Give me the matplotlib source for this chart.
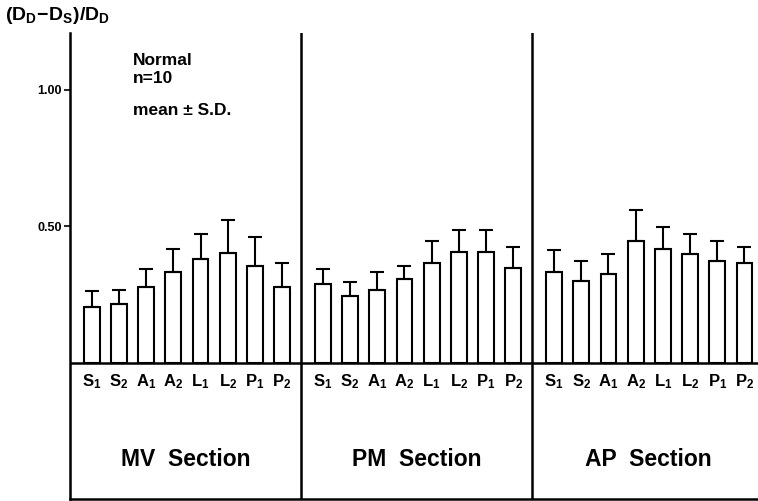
import matplotlib
matplotlib.use("Agg")
import matplotlib.pyplot as plt
import numpy as np

plt.rcParams['font.family'] = ['Liberation Sans', 'DejaVu Sans']
plt.rcParams['font.weight'] = 'bold'
plt.rcParams['mathtext.fontset'] = 'custom'
plt.rcParams['mathtext.rm'] = 'Liberation Sans:bold'
plt.rcParams['mathtext.it'] = 'Liberation Sans:bold'
plt.rcParams['mathtext.bf'] = 'Liberation Sans:bold'

# datos (media y desviacion estandar)
segmentos = ['S_1', 'S_2', 'A_1', 'A_2', 'L_1', 'L_2', 'P_1', 'P_2']
secciones = ['MV  Section', 'PM  Section', 'AP  Section']
mv_mean = [0.203, 0.216, 0.276, 0.330, 0.378, 0.401, 0.354, 0.278]
mv_sd = [0.059, 0.049, 0.065, 0.084, 0.093, 0.122, 0.107, 0.087]
pm_mean = [0.289, 0.243, 0.267, 0.305, 0.364, 0.403, 0.404, 0.347]
pm_sd = [0.055, 0.053, 0.065, 0.049, 0.081, 0.081, 0.081, 0.076]
ap_mean = [0.333, 0.298, 0.325, 0.444, 0.415, 0.397, 0.371, 0.365]
ap_sd = [0.079, 0.073, 0.072, 0.114, 0.083, 0.072, 0.075, 0.059]

medias = [mv_mean, pm_mean, ap_mean]
desvios = [mv_sd, pm_sd, ap_sd]

fig = plt.figure(figsize=(7.58, 5.01), dpi=100)
ax = fig.add_axes([70 / 758, 2 / 501, 688 / 758, 466 / 501])

ancho_seccion = 8.5
for k in range(3):
    x0 = k * ancho_seccion
    xs = x0 + 0.8 + np.arange(len(segmentos))
    m = np.array(medias[k])
    sd = np.array(desvios[k])
    ax.bar(xs, m, width=0.58, color='white', edgecolor='black', linewidth=1.5,
           yerr=[np.zeros_like(sd), sd], capsize=4.7,
           error_kw=dict(elinewidth=1.5, capthick=1.5, ecolor='black'), zorder=2)
    # etiquetas de segmentos
    for x, s in zip(xs, segmentos):
        ax.text(x, -0.07, r'$\mathrm{' + s + '}$', ha='center', va='center', fontsize=12)
    # nombre de la seccion
    ax.text(x0 + ancho_seccion / 2, -0.357, secciones[k], ha='center', va='center',
            fontsize=16.5, fontweight='bold')
    if k > 0:
        ax.axvline(x0, color='black', linewidth=1.8, zorder=3)

ax.axhline(0, color='black', linewidth=1.8, zorder=3)

ax.set_xlim(0, 25.3)
ax.set_ylim(-0.5, 1.207)
ax.set_xticks([])
ax.set_yticks([0.5, 1.0])
ax.set_yticklabels(['0.50', '1.00'], fontsize=9, fontweight='bold')
ax.tick_params(axis='y', length=4, width=1.2, pad=2)

ax.spines['top'].set_visible(False)
ax.spines['right'].set_visible(False)
ax.spines['left'].set_linewidth(1.8)
ax.spines['bottom'].set_linewidth(1.8)

fig.text(5 / 758, 1 - 16 / 501, r'$\mathrm{(D_D\!-\!D_S)/D_D}$', ha='left', va='center', fontsize=14)
ax.text(2.3, 1.072, 'Normal\nn=10', ha='left', va='center', fontsize=12.5, fontweight='bold',
        linespacing=1.25)
ax.text(2.3, 0.922, 'mean ± S.D.', ha='left', va='center', fontsize=12.5, fontweight='bold')

fig.savefig('out.png', dpi=100)
